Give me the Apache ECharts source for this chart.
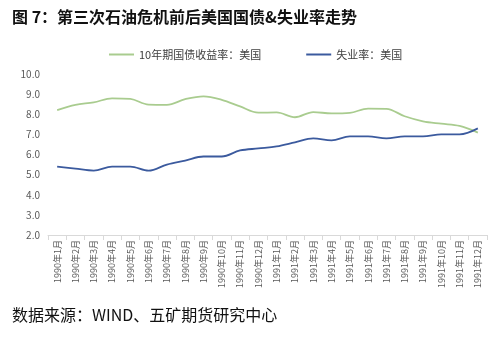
<!DOCTYPE html>
<html>
<head>
<meta charset="utf-8">
<script src="https://cdn.jsdelivr.net/npm/echarts@6/dist/echarts.min.js"></script>
<style>
html,body{margin:0;padding:0;background:#fff;}
#c{width:500px;height:339px;}
</style>
</head>
<body>
<div id="c"></div>
<script>
const categories = ['1990年1月','1990年2月','1990年3月','1990年4月','1990年5月','1990年6月','1990年7月','1990年8月','1990年9月','1990年10月','1990年11月','1990年12月',
  '1991年1月','1991年2月','1991年3月','1991年4月','1991年5月','1991年6月','1991年7月','1991年8月','1991年9月','1991年10月','1991年11月','1991年12月'];
const yield10 = [8.21,8.47,8.59,8.79,8.76,8.48,8.47,8.75,8.89,8.72,8.39,8.08,8.09,7.85,8.11,8.04,8.07,8.28,8.27,7.90,7.65,7.53,7.42,7.09];
const unemployment = [5.4,5.3,5.2,5.4,5.4,5.2,5.5,5.7,5.9,5.9,6.2,6.3,6.4,6.6,6.8,6.7,6.9,6.9,6.8,6.9,6.9,7.0,7.0,7.3];
const seriesNames = ['10年期国债收益率：美国','失业率：美国'];

const chart = echarts.init(document.getElementById('c'), null, {renderer:'canvas'});
chart.setOption({
  animation:false,
  backgroundColor:'#fff',
  textStyle:{fontFamily:'"Noto Sans CJK SC", sans-serif'},
  graphic:[
    {type:'text', left:12, top:9, style:{text:'图 7：第三次石油危机前后美国国债&失业率走势', fontSize:16, fontWeight:'bold', fill:'#111', fontFamily:'"Noto Sans CJK SC", sans-serif'}},
    {type:'text', left:12, top:307, style:{text:'数据来源：WIND、五矿期货研究中心', fontSize:16, fill:'#111', fontFamily:'"Noto Sans CJK SC", sans-serif'}}
  ],
  legend:{
    left:104, top:44, itemGap:45, itemWidth:25, itemHeight:2, icon:'rect',
    textStyle:{fontSize:11, color:'#404040'},
    data:seriesNames
  },
  grid:{left:48, right:13, top:74, bottom:104},
  xAxis:{
    type:'category', data:categories, boundaryGap:true,
    axisLine:{lineStyle:{color:'#d9d9d9'}},
    axisTick:{show:true, lineStyle:{color:'#d9d9d9'}},
    axisLabel:{rotate:90, fontSize:9, color:'#595959', interval:0, margin:5}
  },
  yAxis:{
    type:'value', min:2, max:10, interval:1,
    axisLine:{show:false}, axisTick:{show:false}, splitLine:{show:false},
    axisLabel:{fontSize:10, color:'#595959', formatter:v=>v.toFixed(1), margin:8}
  },
  series:[
    {name:seriesNames[0], type:'line', data:yield10, smooth:0.35, symbol:'none', lineStyle:{width:1.8, color:'#a9cc8f'}, itemStyle:{color:'#a9cc8f'}},
    {name:seriesNames[1], type:'line', data:unemployment, smooth:0.35, symbol:'none', lineStyle:{width:1.8, color:'#3b5a9e'}, itemStyle:{color:'#3b5a9e'}}
  ]
});
</script>
</body>
</html>
